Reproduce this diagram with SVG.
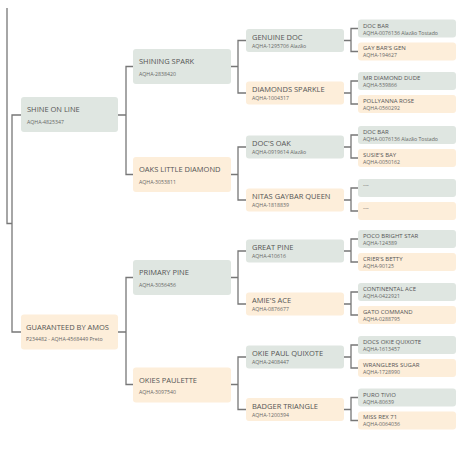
<svg xmlns="http://www.w3.org/2000/svg" width="470" height="454" viewBox="0 0 470 454">
<style>
.m{fill:#dfe6e1}
.f{fill:#fdeeda}
.t{font-family:"Open Sans","Noto Sans",sans-serif;fill:#555}
.t1{font-size:7.5px}
.t2{font-size:6px}
.s{font-family:"Open Sans","Noto Sans",sans-serif;fill:#666;font-size:5.2px}
.c{fill:none;stroke:#777;stroke-width:1.3}
</style>
<rect width="470" height="454" fill="#fff"/>
<g id="connectors" class="c">
<path d="M7,8V223.5H12M21,115H12V332H21"/>
<path d="M118,115H126M133,66.5H126V174.5H133"/>
<path d="M118,332H126M133,277.5H126V384.5H133"/>
<path d="M231,66.5H238M246,40.5H238V93H246"/>
<path d="M231,174.5H238M246,147H238V200H246"/>
<path d="M231,277.5H238M246,251H238V304H246"/>
<path d="M231,384.5H238M246,357H238V409.5H246"/>
<path d="M344,40.5H351M358,28.5H351V51.5H358"/>
<path d="M344,93H351M358,81H351V104H358"/>
<path d="M344,147H351M358,135H351V158H358"/>
<path d="M344,200H351M358,188H351V211H358"/>
<path d="M344,251H351M358,239H351V262H358"/>
<path d="M344,304H351M358,292H351V315H358"/>
<path d="M344,357H351M358,345H351V368H358"/>
<path d="M344,409.5H351M358,397.5H351V420.5H358"/>
</g>
<g id="n-shine-on-line"><rect class="m" x="21" y="97" width="97" height="35" rx="3"/><text class="t t1" x="27" y="112">SHINE ON LINE</text><text class="s" x="27" y="124">AQHA-4825347</text></g>
<g id="n-guaranteed-by-amos"><rect class="f" x="21" y="314.5" width="97" height="35" rx="3"/><text class="t t1" x="26" y="330">GUARANTEED BY AMOS</text><text class="s" x="26" y="341">P234482 - AQHA-4568449 Preto</text></g>
<g id="n-shining-spark"><rect class="m" x="133" y="49" width="98" height="35" rx="3"/><text class="t t1" x="139" y="64">SHINING SPARK</text><text class="s" x="139" y="75.5">AQHA-2838420</text></g>
<g id="n-oaks-little-diamond"><rect class="f" x="133" y="157" width="98" height="35" rx="3"/><text class="t t1" x="139" y="172">OAKS LITTLE DIAMOND</text><text class="s" x="139" y="183.5">AQHA-3053811</text></g>
<g id="n-primary-pine"><rect class="m" x="133" y="260" width="98" height="35" rx="3"/><text class="t t1" x="139" y="275">PRIMARY PINE</text><text class="s" x="139" y="286.5">AQHA-3056456</text></g>
<g id="n-okies-paulette"><rect class="f" x="133" y="367.5" width="98" height="35" rx="3"/><text class="t t1" x="139" y="382.5">OKIES PAULETTE</text><text class="s" x="139" y="394">AQHA-3097540</text></g>
<g id="n-genuine-doc"><rect class="m" x="246" y="29" width="98" height="23" rx="3"/><text class="t t1" x="252" y="39.5">GENUINE DOC</text><text class="s" x="252" y="47.5">AQHA-1295706 Alazão</text></g>
<g id="n-diamonds-sparkle"><rect class="f" x="246" y="81.5" width="98" height="23" rx="3"/><text class="t t1" x="252" y="92">DIAMONDS SPARKLE</text><text class="s" x="252" y="100">AQHA-1004317</text></g>
<g id="n-docs-oak"><rect class="m" x="246" y="135.5" width="98" height="23" rx="3"/><text class="t t1" x="252" y="146">DOC'S OAK</text><text class="s" x="252" y="154">AQHA-0919614 Alazão</text></g>
<g id="n-nitas-gaybar-queen"><rect class="f" x="246" y="188.5" width="98" height="23" rx="3"/><text class="t t1" x="252" y="199">NITAS GAYBAR QUEEN</text><text class="s" x="252" y="207">AQHA-1818839</text></g>
<g id="n-great-pine"><rect class="m" x="246" y="239.5" width="98" height="23" rx="3"/><text class="t t1" x="252" y="250">GREAT PINE</text><text class="s" x="252" y="258">AQHA-410616</text></g>
<g id="n-amies-ace"><rect class="f" x="246" y="292.5" width="98" height="23" rx="3"/><text class="t t1" x="252" y="303">AMIE'S ACE</text><text class="s" x="252" y="311">AQHA-0876677</text></g>
<g id="n-okie-paul-quixote"><rect class="m" x="246" y="345.5" width="98" height="23" rx="3"/><text class="t t1" x="252" y="356">OKIE PAUL QUIXOTE</text><text class="s" x="252" y="364">AQHA-2408447</text></g>
<g id="n-badger-triangle"><rect class="f" x="246" y="398" width="98" height="23" rx="3"/><text class="t t1" x="252" y="408.5">BADGER TRIANGLE</text><text class="s" x="252" y="416.5">AQHA-1200394</text></g>
<g id="n-doc-bar-1"><rect class="m" x="358" y="19.5" width="98" height="18" rx="3"/><text class="t t2" x="363" y="27.5">DOC BAR</text><text class="s" x="363" y="34.5">AQHA-0076136 Alazão Tostado</text></g>
<g id="n-gay-bars-gen"><rect class="f" x="358" y="42.5" width="98" height="18" rx="3"/><text class="t t2" x="363" y="50">GAY BAR'S GEN</text><text class="s" x="363" y="57">AQHA-194627</text></g>
<g id="n-mr-diamond-dude"><rect class="m" x="358" y="72" width="98" height="18" rx="3"/><text class="t t2" x="363" y="80">MR DIAMOND DUDE</text><text class="s" x="363" y="87">AQHA-539866</text></g>
<g id="n-pollyanna-rose"><rect class="f" x="358" y="95" width="98" height="18" rx="3"/><text class="t t2" x="363" y="102.5">POLLYANNA ROSE</text><text class="s" x="363" y="109.5">AQHA-0560292</text></g>
<g id="n-doc-bar-2"><rect class="m" x="358" y="126" width="98" height="18" rx="3"/><text class="t t2" x="363" y="134">DOC BAR</text><text class="s" x="363" y="141">AQHA-0076136 Alazão Tostado</text></g>
<g id="n-susies-bay"><rect class="f" x="358" y="149" width="98" height="18" rx="3"/><text class="t t2" x="363" y="156.5">SUSIE'S BAY</text><text class="s" x="363" y="163.5">AQHA-0050162</text></g>
<g id="n-unknown-1"><rect class="m" x="358" y="179" width="98" height="18" rx="3"/><text class="t t2" x="363" y="187">---</text></g>
<g id="n-unknown-2"><rect class="f" x="358" y="202" width="98" height="18" rx="3"/><text class="t t2" x="363" y="210">---</text></g>
<g id="n-poco-bright-star"><rect class="m" x="358" y="230" width="98" height="18" rx="3"/><text class="t t2" x="363" y="238">POCO BRIGHT STAR</text><text class="s" x="363" y="245">AQHA-124389</text></g>
<g id="n-criers-betty"><rect class="f" x="358" y="253" width="98" height="18" rx="3"/><text class="t t2" x="363" y="260.5">CRIER'S BETTY</text><text class="s" x="363" y="267.5">AQHA-90125</text></g>
<g id="n-continental-ace"><rect class="m" x="358" y="283" width="98" height="18" rx="3"/><text class="t t2" x="363" y="291">CONTINENTAL ACE</text><text class="s" x="363" y="298">AQHA-0422921</text></g>
<g id="n-gato-command"><rect class="f" x="358" y="306" width="98" height="18" rx="3"/><text class="t t2" x="363" y="313.5">GATO COMMAND</text><text class="s" x="363" y="320.5">AQHA-0288795</text></g>
<g id="n-docs-okie-quixote"><rect class="m" x="358" y="336" width="98" height="18" rx="3"/><text class="t t2" x="363" y="344">DOCS OKIE QUIXOTE</text><text class="s" x="363" y="351">AQHA-1613457</text></g>
<g id="n-wranglers-sugar"><rect class="f" x="358" y="359" width="98" height="18" rx="3"/><text class="t t2" x="363" y="366.5">WRANGLERS SUGAR</text><text class="s" x="363" y="373.5">AQHA-1728990</text></g>
<g id="n-puro-tivio"><rect class="m" x="358" y="388.5" width="98" height="18" rx="3"/><text class="t t2" x="363" y="396.5">PURO TIVIO</text><text class="s" x="363" y="403.5">AQHA-80639</text></g>
<g id="n-miss-rex-71"><rect class="f" x="358" y="411.5" width="98" height="18" rx="3"/><text class="t t2" x="363" y="419">MISS REX 71</text><text class="s" x="363" y="426">AQHA-0064036</text></g>
</svg>
